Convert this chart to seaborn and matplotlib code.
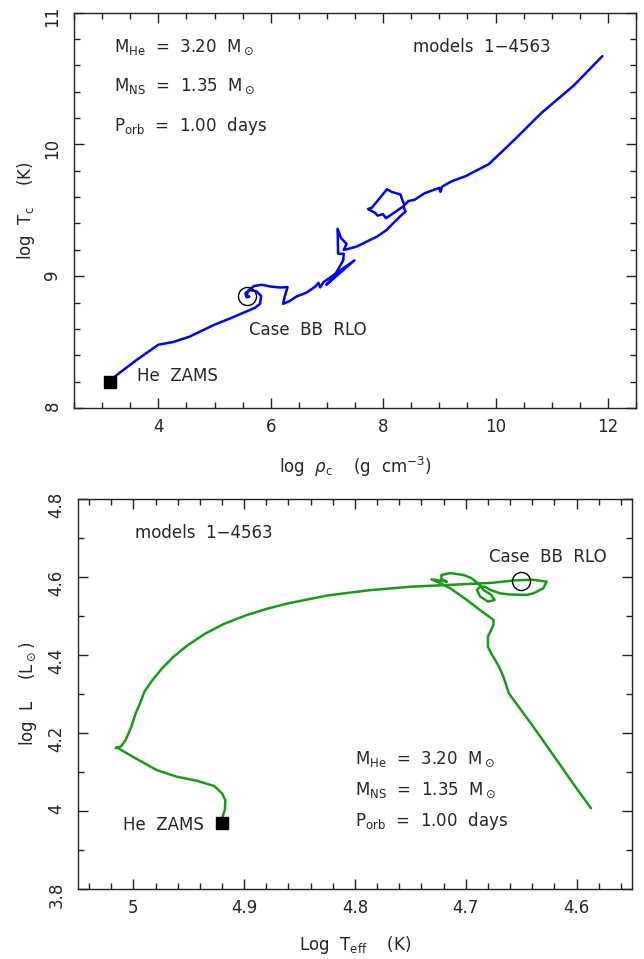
import pandas as pd
import matplotlib
matplotlib.use("Agg")
import matplotlib.pyplot as plt
import seaborn as sns
from matplotlib.ticker import MultipleLocator, FormatStrFormatter

# top panel: central density vs central temperature
rho_c = [3.16, 3.23, 3.60, 4.00, 4.26, 4.55, 4.99, 5.28, 5.72, 5.81,
         5.83, 5.75, 5.62, 5.55, 5.57, 5.62, 5.57, 5.60, 5.70, 5.84,
         5.99, 6.17, 6.30, 6.25, 6.22, 6.33, 6.46, 6.64, 6.79, 6.85,
         6.88, 6.94, 7.49, 6.99, 7.13, 7.29, 7.30, 7.20, 7.19, 7.25,
         7.35, 7.30, 7.36, 7.53, 7.71, 7.89, 8.06, 8.21, 8.33, 8.40,
         8.36, 8.05, 8.00, 7.90, 7.86, 7.73, 7.80, 8.07, 8.15, 8.31,
         8.34, 8.38, 8.45, 8.56, 8.74, 8.90, 9.00, 9.02, 9.05, 9.22,
         9.47, 9.88, 10.30, 10.82, 11.40, 11.90]
log_tc = [8.21, 8.24, 8.36, 8.48, 8.50, 8.54, 8.63, 8.68, 8.76, 8.79,
          8.85, 8.885, 8.895, 8.87, 8.84, 8.845, 8.85, 8.89, 8.925, 8.935,
          8.922, 8.914, 8.917, 8.846, 8.79, 8.81, 8.846, 8.876, 8.92, 8.95,
          8.915, 8.955, 9.12, 8.935, 9.00, 9.12, 9.17, 9.17, 9.36, 9.29,
          9.245, 9.20, 9.205, 9.225, 9.263, 9.30, 9.35, 9.415, 9.465, 9.49,
          9.53, 9.44, 9.47, 9.46, 9.48, 9.51, 9.52, 9.66, 9.64, 9.62,
          9.58, 9.54, 9.57, 9.58, 9.63, 9.655, 9.67, 9.64, 9.68, 9.72,
          9.76, 9.85, 10.02, 10.24, 10.45, 10.67]

# bottom panel: HR diagram
log_teff = [4.9195, 4.9174, 4.917, 4.920, 4.927, 4.942, 4.961, 4.979, 4.998, 5.015,
            5.016, 5.011, 5.007, 5.002, 4.998, 4.994, 4.990, 4.983, 4.974, 4.964,
            4.951, 4.935, 4.918, 4.898, 4.880, 4.861, 4.824, 4.787, 4.750, 4.720,
            4.676, 4.657, 4.640, 4.627, 4.630, 4.639, 4.645, 4.660, 4.669, 4.678,
            4.683, 4.687, 4.690, 4.687, 4.680, 4.674, 4.677, 4.684, 4.689, 4.695,
            4.702, 4.714, 4.722, 4.722, 4.717, 4.731, 4.723, 4.714, 4.699, 4.687,
            4.675, 4.675, 4.680, 4.680, 4.677, 4.670, 4.666, 4.661, 4.639, 4.620,
            4.601, 4.587]
log_l = [3.985, 4.004, 4.028, 4.045, 4.064, 4.077, 4.088, 4.105, 4.135, 4.163,
         4.161, 4.166, 4.182, 4.215, 4.250, 4.276, 4.306, 4.335, 4.366, 4.395,
         4.425, 4.455, 4.480, 4.502, 4.518, 4.532, 4.553, 4.566, 4.575, 4.579,
         4.585, 4.591, 4.593, 4.588, 4.571, 4.558, 4.554, 4.555, 4.558, 4.567,
         4.575, 4.575, 4.567, 4.550, 4.537, 4.541, 4.554, 4.567, 4.584, 4.597,
         4.605, 4.610, 4.605, 4.594, 4.588, 4.594, 4.584, 4.571, 4.541, 4.515,
         4.490, 4.477, 4.447, 4.421, 4.404, 4.370, 4.344, 4.301, 4.216, 4.139,
         4.062, 4.007]

# special points
zams_top = (3.14, 8.20)
rlo_top = (5.57, 8.85)
zams_bot = (4.92, 3.970)
rlo_bot = (4.65, 4.590)

info_lines = [r"M$_{\rm He}$  =  3.20  M$_\odot$",
              r"M$_{\rm NS}$  =  1.35  M$_\odot$",
              r"P$_{\rm orb}$  =  1.00  days"]

sns.set_style("ticks")
plt.rcParams["font.family"] = ["DejaVu Sans"]
plt.rcParams["mathtext.fontset"] = "dejavusans"
FS = 12

fig = plt.figure(figsize=(6.44, 9.59), dpi=100)
ax1 = fig.add_axes([0.1149, 0.5746, 0.8727, 0.4122])
ax2 = fig.add_axes([0.1211, 0.0730, 0.8602, 0.4067])


def style_axes(ax, xmaj, xmin, ymaj, ymin):
    ax.xaxis.set_major_locator(MultipleLocator(xmaj))
    ax.xaxis.set_minor_locator(MultipleLocator(xmin))
    ax.yaxis.set_major_locator(MultipleLocator(ymaj))
    ax.yaxis.set_minor_locator(MultipleLocator(ymin))
    ax.xaxis.set_major_formatter(FormatStrFormatter("%g"))
    ax.yaxis.set_major_formatter(FormatStrFormatter("%g"))
    ax.tick_params(which="both", direction="in", top=True, right=True,
                   labelsize=FS, color="#222222", width=1)
    ax.tick_params(which="major", length=7)
    ax.tick_params(which="minor", length=4)
    ax.tick_params(axis="y", labelrotation=90, pad=9)
    ax.tick_params(axis="x", pad=7)
    for s in ax.spines.values():
        s.set_linewidth(1.0)
        s.set_color("#222222")


# ---- top panel
df_top = pd.DataFrame({"rho": rho_c, "tc": log_tc})
sns.lineplot(data=df_top, x="rho", y="tc", sort=False, estimator=None,
             color="#0000ff", lw=1.8, ax=ax1)
ax1.plot(*zams_top, marker="s", ms=9, color="black", zorder=5)
ax1.plot(*rlo_top, marker="o", ms=13, mfc="none", mec="black", mew=1, zorder=5)
ax1.set_xlim(2.5, 12.5)
ax1.set_ylim(8, 11)
style_axes(ax1, 2, 0.5, 1, 0.2)
ax1.set_xlabel(r"log  $\rho_{\rm c}$    (g  cm$^{-3}$)", fontsize=FS, va="center")
ax1.set_ylabel(r"log  T$_{\rm c}$    (K)", fontsize=FS, va="center")
ax1.xaxis.set_label_coords(0.50, -0.149)
ax1.yaxis.set_label_coords(-0.085, 0.50)
for i, line in enumerate(info_lines):
    ax1.text(3.22, 10.74 - 0.30 * i, line, fontsize=FS, va="center")
ax1.text(8.53, 10.74, "models  1\u22124563", fontsize=FS, va="center")
ax1.text(5.61, 8.59, "Case  BB  RLO", fontsize=FS, va="center")
ax1.text(3.62, 8.24, "He  ZAMS", fontsize=FS, va="center")

# ---- bottom panel
df_bot = pd.DataFrame({"teff": log_teff, "lum": log_l})
sns.lineplot(data=df_bot, x="teff", y="lum", sort=False, estimator=None,
             color="#1a9a1a", lw=1.8, ax=ax2)
ax2.plot(*zams_bot, marker="s", ms=9, color="black", zorder=5)
ax2.plot(*rlo_bot, marker="o", ms=13, mfc="none", mec="black", mew=1, zorder=5)
ax2.set_xlim(5.05, 4.55)
ax2.set_ylim(3.8, 4.8)
style_axes(ax2, 0.1, 0.02, 0.2, 0.1)
ax2.set_xlabel(r"Log  T$_{\rm eff}$    (K)", fontsize=FS, va="center")
ax2.set_ylabel(r"log  L    (L$_\odot$)", fontsize=FS, va="center")
ax2.xaxis.set_label_coords(0.50, -0.144)
ax2.yaxis.set_label_coords(-0.090, 0.50)
ax2.text(4.9985, 4.713, "models  1\u22124563", fontsize=FS, va="center")
ax2.text(4.679, 4.651, "Case  BB  RLO", fontsize=FS, va="center")
for i, line in enumerate(info_lines):
    ax2.text(4.80, 4.132 - 0.079 * i, line, fontsize=FS, va="center")
ax2.text(5.009, 3.964, "He  ZAMS", fontsize=FS, va="center")

fig.savefig("out.png", dpi=100)
